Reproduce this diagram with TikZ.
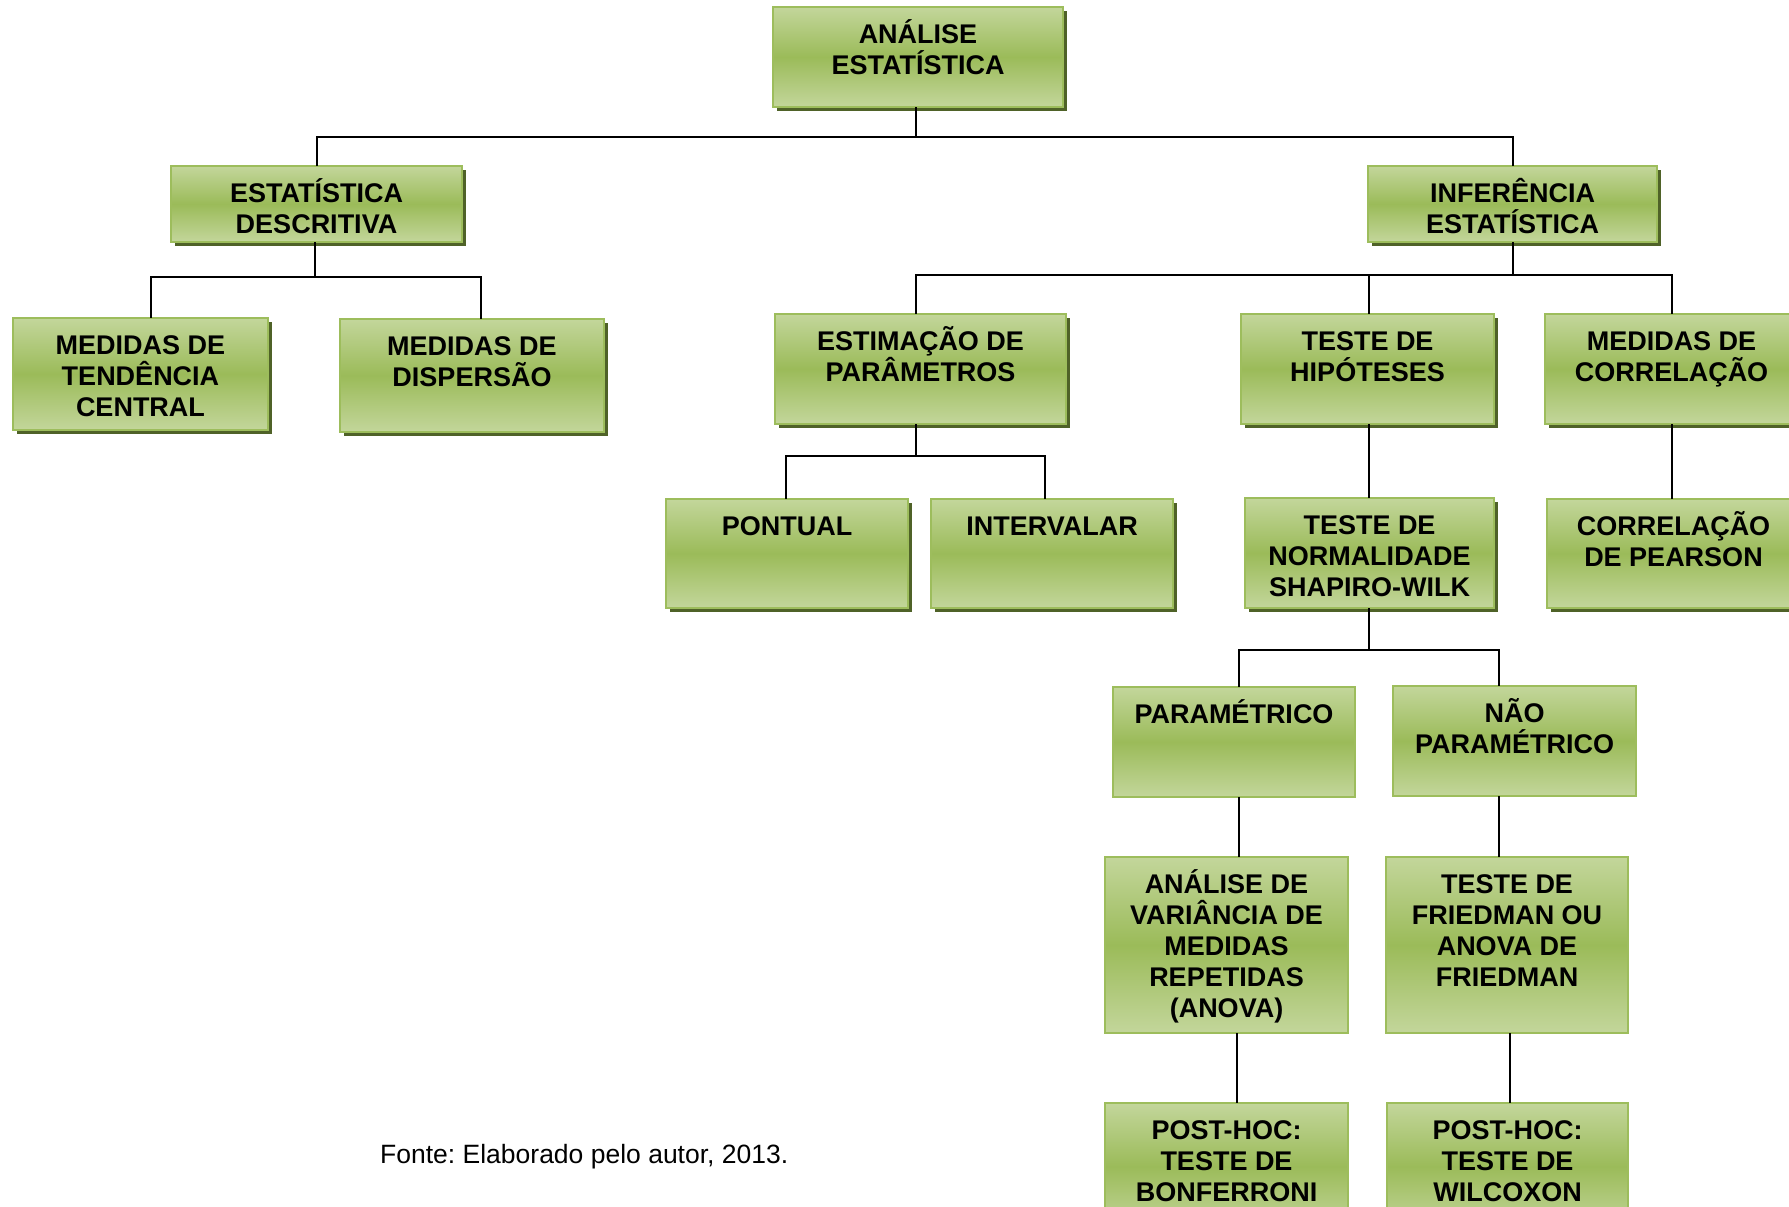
\documentclass[tikz,border=0pt]{standalone}
\usepackage{fontspec}
\setmainfont{Liberation Sans}
\frenchspacing
\usetikzlibrary{shadows,calc}
\definecolor{gl}{HTML}{C3D69B}
\definecolor{gm}{HTML}{9BBB59}
\definecolor{gb}{HTML}{9DBD5C}
\definecolor{shc}{HTML}{4F6228}
\tikzset{
  gbox/.style={draw=gb, line width=2.5pt, rectangle, inner sep=0pt, outer sep=0pt,
    top color=gl, bottom color=gl, middle color=gm},
  shad/.style={drop shadow={shadow xshift=4pt, shadow yshift=-4pt, fill=shc, opacity=1}},
  noshad/.style={},
  txt/.style={anchor=north, inner sep=0pt, align=center,
    font=\bfseries\fontsize{27pt}{31pt}\selectfont},
  conn/.style={draw=black, line width=2pt}
}
\newcommand\mybox[7]{%
  \node[gbox,#6,minimum width={#4-#2},minimum height={#5-#3}] (#1) at ({(#2+#4)/2},{(#3+#5)/2}) {};
  \node[txt] (#1-t) at (#1.north) {\rule{0pt}{36pt}#7};}
\begin{document}
\begin{tikzpicture}[x=1pt,y=-1pt]
\useasboundingbox (0,0) rectangle (1789,1207);
\clip (0,0) rectangle (1789,1207);
\fill[white] (0,0) rectangle (1789,1207);

\mybox{root}{773}{7}{1063}{107}{shad}{ANÁLISE\\ESTATÍSTICA}
\mybox{desc}{171}{166}{462}{242}{shad}{ESTATÍSTICA\\DESCRITIVA}
\mybox{infer}{1368}{166}{1657}{242}{shad}{INFERÊNCIA\\ESTATÍSTICA}
\mybox{tend}{13}{318}{268}{430}{shad}{MEDIDAS DE\\TENDÊNCIA\\CENTRAL}
\mybox{disp}{340}{319}{604}{432}{shad}{MEDIDAS DE\\DISPERSÃO}
\mybox{estim}{775}{314}{1066}{424}{shad}{ESTIMAÇÃO DE\\PARÂMETROS}
\mybox{hipo}{1241}{314}{1494}{424}{shad}{TESTE DE\\HIPÓTESES}
\mybox{corr}{1545}{314}{1798}{424}{shad}{MEDIDAS DE\\CORRELAÇÃO}
\mybox{pont}{666}{499}{908}{608}{shad}{PONTUAL}
\mybox{interv}{931}{499}{1173}{608}{shad}{INTERVALAR}
\mybox{normal}{1245}{498}{1494}{608}{shad}{TESTE DE\\NORMALIDADE\\SHAPIRO-WILK}
\mybox{pearson}{1547}{499}{1800}{608}{shad}{CORRELAÇÃO\\DE PEARSON}
\mybox{para}{1113}{687}{1355}{797}{noshad}{PARAMÉTRICO}
\mybox{nao}{1393}{686}{1636}{796}{noshad}{NÃO\\PARAMÉTRICO}
\mybox{anova}{1105}{857}{1348}{1033}{noshad}{ANÁLISE DE\\VARIÂNCIA DE\\MEDIDAS\\REPETIDAS\\(ANOVA)}
\mybox{fried}{1386}{857}{1628}{1033}{noshad}{TESTE DE\\FRIEDMAN OU\\ANOVA DE\\FRIEDMAN}
\mybox{bonf}{1105}{1103}{1348}{1230}{noshad}{POST-HOC:\\TESTE DE\\BONFERRONI}
\mybox{wilc}{1387}{1103}{1628}{1230}{noshad}{POST-HOC:\\TESTE DE\\WILCOXON}

% connectors
\draw[conn] ([xshift=-2.5pt]root.south) -- ++(0,30) -| (desc.north);
\draw[conn] ([xshift=-2.5pt]root.south) -- ++(0,30) -| (infer.north);
\draw[conn] ([xshift=-1.5pt]desc.south) -- ++(0,35) -| ([xshift=10pt]tend.north);
\draw[conn] ([xshift=-1.5pt]desc.south) -- ++(0,35) -| ([xshift=8.7pt]disp.north);
\draw[conn] (infer.south) -- ++(0,33) -| ([xshift=-5pt]estim.north);
\draw[conn] (infer.south) -- ++(0,33) -| ([xshift=1pt]hipo.north);
\draw[conn] (infer.south) -- ++(0,33) -| (corr.north);
\draw[conn] ([xshift=-5pt]estim.south) -- ++(0,32) -| ([xshift=-1pt]pont.north);
\draw[conn] ([xshift=-5pt]estim.south) -- ++(0,32) -| ([xshift=-6.7pt]interv.north);
\coordinate (h0) at ([xshift=1pt]hipo.south);
\draw[conn] (h0) -- (h0 |- normal.north);
\draw[conn] (corr.south) -- (corr.south |- pearson.north);
\draw[conn] ([xshift=-1pt]normal.south) -- ++(0,42) -| ([xshift=4.5pt]para.north);
\draw[conn] ([xshift=-1pt]normal.south) -- ++(0,42) -| ([xshift=-16pt]nao.north);
\coordinate (p0) at ([xshift=4.5pt]para.south);
\draw[conn] (p0) -- (p0 |- anova.north);
\coordinate (n0) at ([xshift=-16pt]nao.south);
\draw[conn] (n0) -- (n0 |- fried.north);
\coordinate (a0) at ([xshift=10.5pt]anova.south);
\draw[conn] (a0) -- (a0 |- bonf.north);
\coordinate (f0) at ([xshift=3pt]fried.south);
\draw[conn] (f0) -- (f0 |- wilc.north);

\node[anchor=base west, inner sep=0pt, font=\fontsize{26.5pt}{31pt}\selectfont] (fonte) at (380,1163) {Fonte: Elaborado pelo autor, 2013.};
\end{tikzpicture}
\end{document}
